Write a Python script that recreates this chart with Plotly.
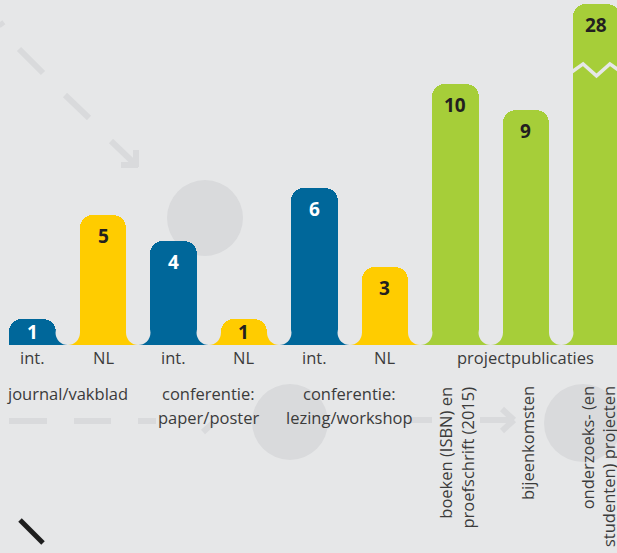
import plotly.graph_objects as go

# ---------------- data ----------------
tick_labels = ["int.", "NL", "int.", "NL", "int.", "NL", "", "projectpublicaties", ""]
values = [1, 5, 4, 1, 6, 3, 10, 9, 28]
series = ["int", "nl", "int", "nl", "int", "nl", "proj", "proj", "proj"]
group_labels = ["journal/vakblad", "conferentie:<br>paper/poster", "conferentie:<br>lezing/workshop"]
group_members = [[0, 1], [2, 3], [4, 5]]
rotated_labels = ["boeken (ISBN) en<br>proefschrift (2015)", "bijeenkomsten",
                  "onderzoeks- (en<br>studenten) projecten"]
rotated_members = [6, 7, 8]
axis_break = 13.07          # bars taller than this are drawn broken
break_mark_at = 10.54       # value where the zig-zag break is drawn

# ---------------- style ----------------
W, H = 617, 553
BASE_PX = 345
Y_MAX = 13.218
X_RANGE = [-0.461, 8.291]
BAR_W = 0.662
BG = "#e6e7e8"
DECO = "#d9dadc"
TXT = "#3b3b3b"
DARK = "#231f20"
FONT = "Open Sans"
LBL = 16.5
colors_map = {"int": "#00679a", "nl": "#ffcc00", "proj": "#a6ce39"}
text_col_map = {"int": "#ffffff", "nl": DARK, "proj": DARK}

n = len(values)
xs = list(range(n))
disp = [min(v, axis_break) for v in values]
colors = [colors_map[s] for s in series]
ppu = BASE_PX / Y_MAX                     # pixels per unit
ppx = W / (X_RANGE[1] - X_RANGE[0])       # pixels per category

fig = go.Figure()
fig.add_trace(go.Bar(
    x=xs, y=disp, width=BAR_W,
    marker=dict(color=colors, line=dict(width=0), cornerradius=13),
    hoverinfo="skip", showlegend=False,
))

shapes = []
annotations = []


def P(x, y):
    return x / W, 1 - y / H


# decorative background elements (paper coords from pixels)
def circ(cx, cy, r):
    x0, y0 = P(cx - r, cy + r)
    x1, y1 = P(cx + r, cy - r)
    shapes.append(dict(type="circle", xref="paper", yref="paper", x0=x0, y0=y0, x1=x1, y1=y1,
                       fillcolor=DECO, line=dict(width=0), layer="below"))


def seg(a, b, width=6, color=DECO, layer="below"):
    x0, y0 = P(*a)
    x1, y1 = P(*b)
    shapes.append(dict(type="line", xref="paper", yref="paper", x0=x0, y0=y0, x1=x1, y1=y1,
                       line=dict(color=color, width=width), layer=layer))


circ(205, 218, 38)
circ(290, 422, 38)
circ(583, 423, 39)
# diagonal dashed arrow
seg((0, 22), (3, 26))
seg((19, 49), (43, 73))
seg((65, 95), (89, 118))
seg((111, 141), (135, 164))
seg((121, 165), (138, 165))
seg((136, 150), (136, 167))
# horizontal dashed arrow
seg((9, 421), (47, 421))
seg((74, 421), (111, 421))
seg((138, 421), (156, 421))
seg((203, 432), (213, 423))
seg((408, 420), (432, 420))
seg((480, 420), (513, 420))
seg((502, 409), (514, 420))
seg((502, 431), (514, 420))
# black stroke bottom-left
seg((20, 520), (43, 543), width=5, color="#1e1e1e", layer="above")

# flared bottoms between adjacent bars
gap_px = (1 - BAR_W) * ppx
r = gap_px / 2
for i in range(n - 1):
    gx = i + 0.5
    shapes.append(dict(type="rect", xref="x", yref="y", x0=i + BAR_W / 2 - 0.02, x1=gx,
                       ysizemode="pixel", yanchor=0, y0=0, y1=r,
                       fillcolor=colors[i], line=dict(width=0), layer="below"))
    shapes.append(dict(type="rect", xref="x", yref="y", x0=gx, x1=i + 1 - BAR_W / 2 + 0.02,
                       ysizemode="pixel", yanchor=0, y0=0, y1=r,
                       fillcolor=colors[i + 1], line=dict(width=0), layer="below"))
    shapes.append(dict(type="circle", xref="x", yref="y",
                       xsizemode="pixel", xanchor=gx, x0=-r - 0.3, x1=r + 0.3,
                       ysizemode="pixel", yanchor=0, y0=0, y1=2 * r + 0.6,
                       fillcolor=BG, line=dict(width=0), layer="above"))

# zig-zag break marks
for i, v in enumerate(values):
    if v > axis_break:
        hw = BAR_W / 2 + 0.05
        amp = 6 / ppu
        pts = [(i - hw, break_mark_at - amp * 0.6), (i - 0.19, break_mark_at + amp),
               (i, break_mark_at - amp), (i + 0.19, break_mark_at + amp),
               (i + hw, break_mark_at - amp * 0.6)]
        path = "M " + " L ".join(f"{px_},{py_}" for px_, py_ in pts)
        shapes.append(dict(type="path", xref="x", yref="y", path=path,
                           line=dict(color=BG, width=3.5), layer="above"))

# value labels
for i, v in enumerate(values):
    bar_px = disp[i] * ppu
    annotations.append(dict(x=i, y=disp[i], xref="x", yref="y", text=str(v), showarrow=False,
                            yanchor="middle", yshift=-min(21, bar_px / 2),
                            font=dict(family=FONT, size=19, color=text_col_map[series[i]], weight="bold")))

# tick labels
for i, t in enumerate(tick_labels):
    if t:
        annotations.append(dict(x=i, y=0, xref="x", yref="y", text=t, showarrow=False,
                                yanchor="middle", yshift=-12,
                                font=dict(family=FONT, size=LBL, color=TXT)))

# group labels
for lab, mem in zip(group_labels, group_members):
    cx = sum(mem) / len(mem)
    for j, line in enumerate(lab.split("<br>")):
        annotations.append(dict(x=cx, y=0, xref="x", yref="y", text=line, showarrow=False,
                                yanchor="middle", yshift=-(48 + 24 * j),
                                font=dict(family=FONT, size=LBL, color=TXT)))

# rotated labels
for lab, idx in zip(rotated_labels, rotated_members):
    annotations.append(dict(x=idx, y=0, xref="x", yref="y", text=lab, showarrow=False,
                            textangle=-90, align="right", xanchor="center", yanchor="top",
                            yshift=-39, xshift=1,
                            font=dict(family=FONT, size=LBL, color=TXT)))

fig.update_layout(
    width=W, height=H, margin=dict(l=0, r=0, t=0, b=0),
    paper_bgcolor=BG, plot_bgcolor=BG, showlegend=False,
    xaxis=dict(range=X_RANGE, visible=False, fixedrange=True),
    yaxis=dict(range=[0, Y_MAX], domain=[1 - BASE_PX / H, 1], visible=False, fixedrange=True),
    shapes=shapes, annotations=annotations, bargap=0,
)
fig.write_html("out.html", config={"displayModeBar": False},
               post_script="document.body.style.margin='0';document.body.style.overflow='hidden';")
